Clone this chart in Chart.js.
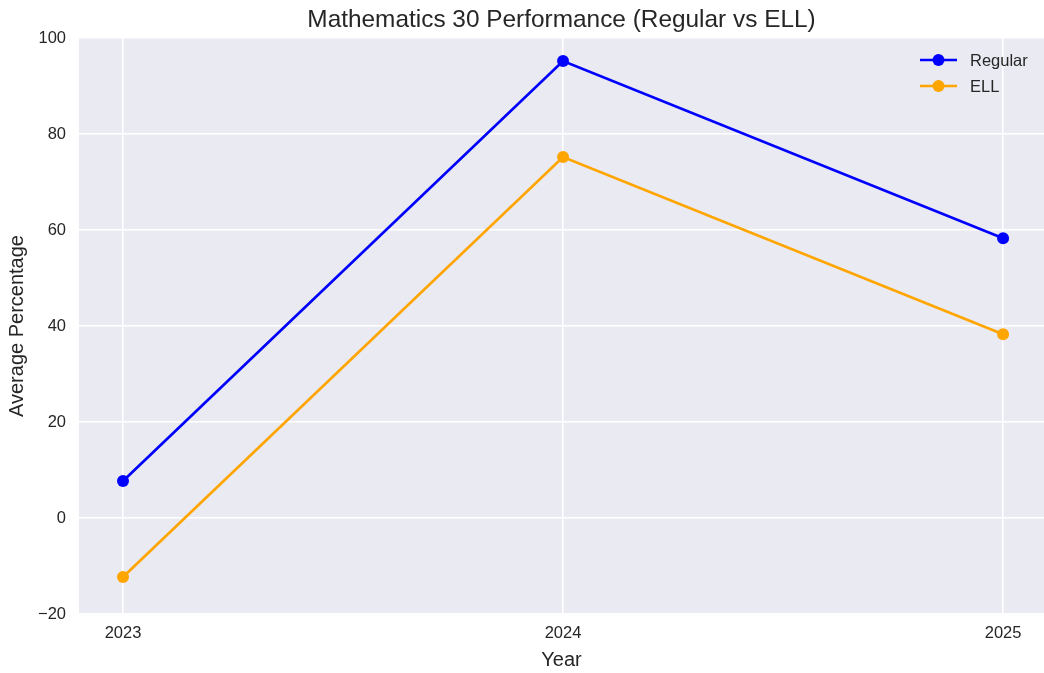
<!DOCTYPE html>
<html>
<head>
<meta charset="utf-8">
<title>Mathematics 30 Performance</title>
<script src="https://cdn.jsdelivr.net/npm/chart.js@4.4.1/dist/chart.umd.min.js"></script>
<style>
    html, body { margin: 0; padding: 0; background: #ffffff; overflow: hidden; }
    #wrap { width: 1044px; height: 673px; }
</style>
</head>
<body>
<div id="wrap"><canvas id="chart" width="1044" height="673"></canvas></div>
<script>
// Data
const years = [2023, 2024, 2025];
const regularScores = [7.7, 95.2, 58.3];
const ellScores = [-12.3, 75.2, 38.3];
const yTicks = [-20, 0, 20, 40, 60, 80, 100];

const textColor = '#262626';
const fontFamily = '"Liberation Sans", Arial, sans-serif';

// Plot area background (seaborn darkgrid look)
const plotBackground = {
    id: 'plotBackground',
    beforeDraw(chart) {
        const { ctx, chartArea } = chart;
        ctx.save();
        ctx.fillStyle = '#eaeaf2';
        ctx.fillRect(chartArea.left, chartArea.top, chartArea.right - chartArea.left, chartArea.bottom - chartArea.top);
        ctx.restore();
    }
};

// Title centred over the plot area
const plotTitle = {
    id: 'plotTitle',
    afterDraw(chart) {
        const { ctx, chartArea } = chart;
        ctx.save();
        ctx.fillStyle = textColor;
        ctx.font = '24.4px ' + fontFamily;
        ctx.textAlign = 'center';
        ctx.textBaseline = 'middle';
        ctx.fillText('Mathematics 30 Performance (Regular vs ELL)', (chartArea.left + chartArea.right) / 2, 20);
        ctx.restore();
    }
};

// Legend with line + marker, upper right inside the plot
const lineLegend = {
    id: 'lineLegend',
    afterDatasetsDraw(chart) {
        const { ctx, chartArea } = chart;
        const x0 = chartArea.right - 124;
        ctx.save();
        ctx.font = '16.5px ' + fontFamily;
        ctx.textBaseline = 'middle';
        chart.data.datasets.forEach((ds, i) => {
            const y = chartArea.top + 22 + i * 26;
            ctx.strokeStyle = ds.borderColor;
            ctx.lineWidth = ds.borderWidth;
            ctx.beginPath();
            ctx.moveTo(x0, y);
            ctx.lineTo(x0 + 37, y);
            ctx.stroke();
            ctx.fillStyle = ds.borderColor;
            ctx.beginPath();
            ctx.arc(x0 + 18.5, y, ds.pointRadius, 0, Math.PI * 2);
            ctx.fill();
            ctx.fillStyle = textColor;
            ctx.textAlign = 'left';
            ctx.fillText(ds.label, x0 + 50, y + 1);
        });
        ctx.restore();
    }
};

const ctx = document.getElementById('chart').getContext('2d');

new Chart(ctx, {
    type: 'line',
    data: {
        datasets: [
            {
                label: 'Regular',
                data: years.map((yr, i) => ({ x: yr, y: regularScores[i] })),
                borderColor: '#0000ff',
                backgroundColor: '#0000ff',
                borderWidth: 2.7,
                pointRadius: 6,
                pointBorderWidth: 0,
                tension: 0
            },
            {
                label: 'ELL',
                data: years.map((yr, i) => ({ x: yr, y: ellScores[i] })),
                borderColor: '#ffa500',
                backgroundColor: '#ffa500',
                borderWidth: 2.7,
                pointRadius: 6,
                pointBorderWidth: 0,
                tension: 0
            }
        ]
    },
    options: {
        responsive: false,
        animation: false,
        layout: { autoPadding: false, padding: { top: 38, right: 0, bottom: 0, left: 0 } },
        plugins: {
            legend: { display: false },
            title: { display: false },
            tooltip: { enabled: false }
        },
        scales: {
            x: {
                type: 'linear',
                min: 2022.9,
                max: 2025.093,
                afterBuildTicks: scale => { scale.ticks = years.map(v => ({ value: v })); },
                afterFit: scale => {
                    scale.height = 59;
                    scale.paddingLeft = 0;
                    scale.paddingRight = 0;
                },
                border: { display: false },
                grid: { color: '#ffffff', lineWidth: 1.5, drawTicks: false },
                ticks: {
                    padding: 10,
                    color: textColor,
                    font: { family: fontFamily, size: 16.5 },
                    callback: v => String(v)
                },
                title: {
                    display: true,
                    text: 'Year',
                    color: textColor,
                    font: { family: fontFamily, size: 20 },
                    padding: { top: 0, bottom: 1 }
                }
            },
            y: {
                min: -20,
                max: 100,
                afterBuildTicks: scale => { scale.ticks = yTicks.map(v => ({ value: v })); },
                afterFit: scale => { scale.width = 79; },
                border: { display: false },
                grid: { color: '#ffffff', lineWidth: 1.5, drawTicks: false },
                ticks: {
                    padding: 13,
                    color: textColor,
                    font: { family: fontFamily, size: 16.5 },
                    callback: v => (v < 0 ? '\u2212' + Math.abs(v) : String(v))
                },
                title: {
                    display: true,
                    text: 'Average Percentage',
                    color: textColor,
                    font: { family: fontFamily, size: 20 },
                    padding: { top: 5, bottom: 0 }
                }
            }
        }
    },
    plugins: [plotBackground, plotTitle, lineLegend]
});
</script>
</body>
</html>
